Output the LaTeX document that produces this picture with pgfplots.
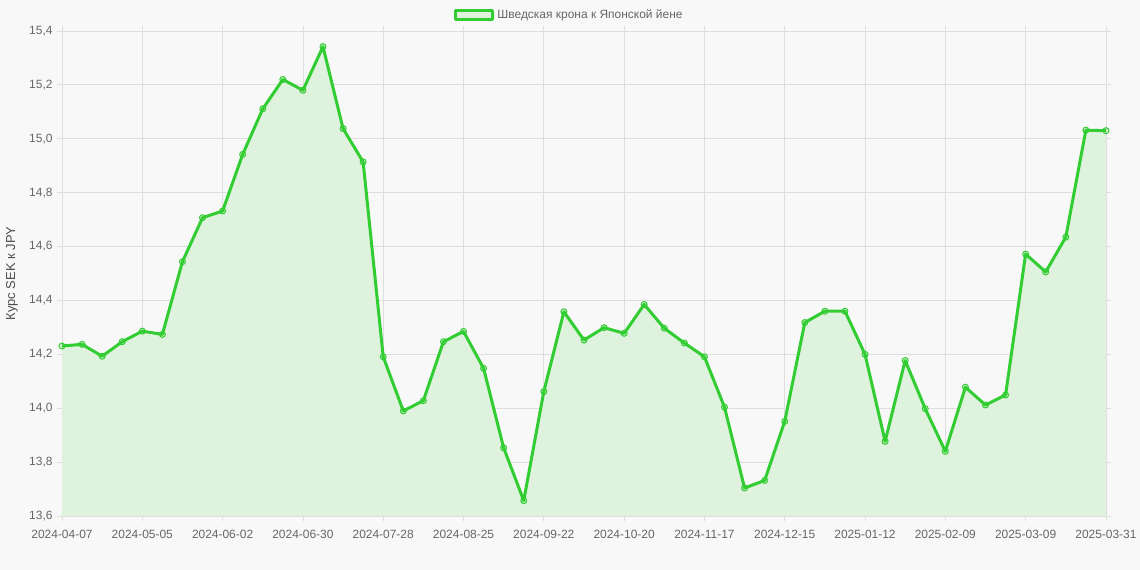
\documentclass[border=0pt]{standalone}
\usepackage{pgfplots}
\pgfplotsset{compat=1.18}
\usepackage{pgfplotstable}
\usepackage{fontspec}
\setmainfont{Liberation Sans}

\definecolor{bgcol}{RGB}{248,248,248}
\definecolor{gridcol}{RGB}{222,222,222}
\definecolor{tickcol}{RGB}{102,102,102}
\definecolor{linecol}{RGB}{50,205,50}
\definecolor{fillcol}{RGB}{223,242,221}

% weekly SEK/JPY, index 0 = 2024-04-07
\pgfplotstableread{
i rate
0 14.231
1 14.237
2 14.193
3 14.247
4 14.286
5 14.274
6 14.544
7 14.707
8 14.732
9 14.942
10 15.111
11 15.220
12 15.180
13 15.342
14 15.038
15 14.914
16 14.191
17 13.990
18 14.028
19 14.247
20 14.285
21 14.148
22 13.853
23 13.657
24 14.062
25 14.358
26 14.253
27 14.299
28 14.278
29 14.385
30 14.297
31 14.242
32 14.191
33 14.004
34 13.704
35 13.732
36 13.951
37 14.318
38 14.360
39 14.360
40 14.200
41 13.877
42 14.177
43 13.998
44 13.840
45 14.078
46 14.012
47 14.049
48 14.572
49 14.506
50 14.635
51 15.032
52 15.030
}\sekjpy

\begin{document}
\begin{tikzpicture}
\fill[bgcol] (0,0) rectangle (1140bp,570bp);
\begin{axis}[
    at={(62bp,54bp)}, anchor=south west,
    scale only axis,
    width=1044bp, height=485bp,
    xmin=0, xmax=52,
    ymin=13.6, ymax=15.4,
    xtick={0,4,...,48,52},
    xticklabels={2024-04-07,2024-05-05,2024-06-02,2024-06-30,2024-07-28,2024-08-25,2024-09-22,2024-10-20,2024-11-17,2024-12-15,2025-01-12,2025-02-09,2025-03-09,2025-03-31},
    ytick={13.6,13.8,...,15.41},
    /pgf/number format/fixed,
    /pgf/number format/fixed zerofill,
    /pgf/number format/precision=1,
    /pgf/number format/use comma,
    /pgf/number format/assume math mode=true,
    ticklabel style={font=\fontsize{12}{14}\selectfont, text=tickcol},
    yticklabel style={xshift=-1bp},
    xticklabel style={yshift=-6bp},
    grid=major,
    major grid style={gridcol, line width=0.8bp},
    axis line style={gridcol, line width=0.8bp},
    tick style={gridcol, line width=0.8bp},
    tick align=outside,
    major tick length=5bp,
    ylabel={Курс SEK к JPY},
    every axis y label/.style={at={(rel axis cs:0,0.5)}, rotate=90, anchor=center, yshift=50bp, font=\fontsize{13}{15}\selectfont, text=tickcol!75!black},
    legend style={at={(rel axis cs:0.4866,1.033)}, anchor=center, draw=none, fill=none,
        font=\fontsize{12}{14}\selectfont, text=tickcol, inner sep=0pt,
        nodes={inner sep=3.5bp}},
    legend cell align=left,
]
\addplot[draw=none, fill=fillcol, forget plot] table[x=i, y=rate] {\sekjpy} \closedcycle;
\addplot[linecol, line width=3bp, line join=round,
    mark=*, mark size=3bp,
    mark options={draw=linecol, fill=linecol, fill opacity=0.15, line width=1bp},
    legend image code/.code={\draw[linecol, line width=3bp, fill=fillcol] (0bp,-4.5bp) rectangle (37bp,4.5bp);}]
    table[x=i, y=rate] {\sekjpy};
\legend{Шведская крона к Японской йене}
\end{axis}
\pgfresetboundingbox
\path (0,0) rectangle (1140bp,570bp);
\end{tikzpicture}
\end{document}
